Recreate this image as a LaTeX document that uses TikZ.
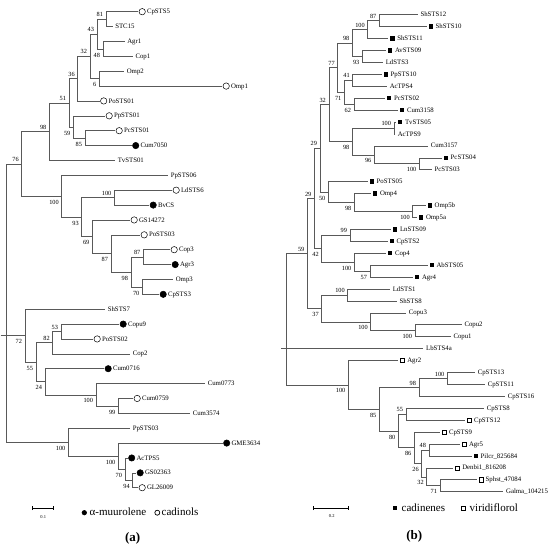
\documentclass[tikz,border=0pt]{standalone}
\usepackage{fontspec}
\setmainfont{Liberation Serif}
\usetikzlibrary{arrows.meta}

\begin{document}
\begin{tikzpicture}[x=1pt,y=-1pt,
  branch/.style={draw=black!65,line width=0.6pt},
  leaf/.style={anchor=west,inner sep=0pt,font=\fontsize{6.8}{7}\selectfont,text height=4.6pt,text depth=0.4pt},
  bs/.style={inner sep=0pt,font=\fontsize{6.3}{7}\selectfont,text height=4.3pt,text depth=0pt},
  bu/.style={bs,anchor=south east,xshift=-2.8pt,yshift=2.2pt},
  bd/.style={bs,anchor=north east,xshift=-2.8pt,yshift=-3.6pt},
  m0/.style={inner sep=0pt},
  m1/.style={circle,draw,line width=0.5pt,minimum size=6.4pt,inner sep=0pt},
  m2/.style={m1,fill},
  m3/.style={rectangle,fill,minimum size=4.4pt,inner sep=0pt},
  m4/.style={rectangle,draw,line width=0.5pt,minimum size=4.2pt,inner sep=0pt},
  legend/.style={anchor=west,inner sep=0pt,font=\fontsize{11}{13}\selectfont,text height=6.5pt,text depth=0pt},
  scalebar/.style={line width=1pt,{Bar[width=3.8pt]}-{Bar[width=3.8pt]}},
  scalelab/.style={inner sep=0pt,font=\fontsize{4.5}{5}\selectfont},
  panel/.style={inner sep=0pt,font=\bfseries\fontsize{13}{15}\selectfont}]
  \useasboundingbox (0,0) rectangle (550,551);

  % (a)
  \foreach[count=\i] \txt/\xe/\m in {CpSTS5/138/1,STC15/112.5/0,Agr1/124.5/0,Cop1/132.7/0,Omp2/124/0,Omp1/222/1,PoSTS01/99.5/1,PpSTS01/105/1,PcSTS01/115/1,Cum7050/131.5/2,TvSTS01/115/0,PpSTS06/168/0,LdSTS6/172/1,BvCS/149/2,GS14272/130/1,PoSTS03/140/1,Cop3/170/1,Agr3/171/2,Omp3/173/0,CpSTS3/159/2,ShSTS7/105/0,Copu9/119/2,PoSTS02/93/1,Cop2/130/0,Cum0716/104/2,Cum0773/205/0,Cum0759/133/1,Cum3574/190/0,PpSTS03/130/0,GME3634/222.5/2,AcTPS5/127.5/2,GS02363/136/2,GL26009/138/1} {
    \pgfmathsetmacro\yy{11.7+(\i-1)*14.875}
    \pgfmathsetmacro\xt{\xe+2.6+6.2*(\m>0)}
    \coordinate (a\i) at (\xe,\yy);
    \node[m\m] (am\i) at (\xe+4.2,\yy) {};
    \node[leaf] (at\i) at (\xt,\yy) {\txt};
  }
  \foreach \n/\px/\py/\b/\p in {A81/106/19.1/81/u,A48/103/48.9/48/d,A43/97/34/43/u,A6/99.3/78.6/6/d,A32/90/56.3/32/u,A36/77.7/78.6/36/u,A85/85/138.1/85/d,A59/73.3/127/59/d,A51/69/102.8/51/u,A98/49.3/131.6/98/u,A100a/114.3/197.7/100/u,A87a/143.3/257.1/87/u,A70a/142.3/286.9/70/d,A98a/131/272/98/d,A87/111/253.4/87/d,A69/92.3/236.7/69/d,A93/81.7/217.2/93/d,A100/61.7/196.3/100/d,A76/21.7/164/76/u,A53/61/331.5/53/u,A82/52.7/342.7/82/u,A99/118.3/405.9/99/d,A100b/96/394.8/100/d,A24/45/381.7/24/d,A55/36/362.2/55/d,A72/25/335.7/72/d,A94/132.7/480.3/94/d,A70/125/469.1/70/d,A100c/118.3/456.1/100/d,A100d/68.3/442.2/100/d} {
    \coordinate (\n) at (\px,\py);
    \node[b\p] (l\n) at (\n) {\b};
  }
  \coordinate (Aroot) at (6,335.7);
  \coordinate (Astub) at (0.5,335.7);
  \foreach \p/\c in {A81/a1,A81/a2,A48/a3,A48/a4,A43/A81,A43/A48,A6/a5,A6/a6,A32/A43,A32/A6,A36/A32,A36/a7,A85/a9,A85/a10,A59/a8,A59/A85,A51/A36,A51/A59,A98/A51,A98/a11,A100a/a13,A100a/a14,A87a/a17,A87a/a18,A70a/a19,A70a/a20,A98a/A87a,A98a/A70a,A87/a16,A87/A98a,A69/a15,A69/A87,A93/A100a,A93/A69,A100/a12,A100/A93,A76/A98,A76/A100,A53/a22,A53/a23,A82/A53,A82/a24,A99/a27,A99/a28,A100b/a26,A100b/A99,A24/a25,A24/A100b,A55/A82,A55/A24,A72/a21,A72/A55,A94/a32,A94/a33,A70/a31,A70/A94,A100c/a30,A100c/A70,A100d/a29,A100d/A100c,Aroot/A76,Aroot/A72,Aroot/A100d,Astub/Aroot}
    \draw[branch] (\p) |- (\c);

  % (b)
  \foreach[count=\i] \txt/\xe/\m in {ShSTS12/417.7/0,ShSTS10/426.7/3,ShSTS11/388.3/3,AvSTS09/386/3,LdSTS3/383/0,PpSTS10/381.7/3,AcTPS4/387/0,PcSTS02/385/3,Cum3158/398/3,TvSTS05/396/3,AcTPS9/395/0,Cum3157/428/0,PcSTS04/441.7/3,PcSTS03/431.7/0,PoSTS05/367.7/3,Omp4/371/3,Omp5b/425.7/3,Omp5a/417/3,LnSTS09/391/3,CpSTS2/387.5/3,Cop4/386/3,AbSTS05/427.5/3,Agr4/413/3,LdSTS1/390/0,ShSTS8/396.7/0,Copu3/406/0,Copu2/461.7/0,Copu1/450.7/0,LbSTS4a/423.3/0,Agr2/398.3/4,CpSTS13/475/0,CpSTS11/485/0,CpSTS16/505/0,CpSTS8/484/0,CpSTS12/465/4,CpSTS9/440/4,Agr5/460/4,Pilcr\_825684/471.7/3,Denbi1\_816208/453.3/4,Sphst\_47084/476.7/4,Galma\_104215/503.3/0} {
    \pgfmathsetmacro\yy{14.7+(\i-1)*11.925}
    \pgfmathsetmacro\xt{\xe+2.6+6.2*(\m>0)}
    \coordinate (b\i) at (\xe,\yy);
    \node[m\m] (bm\i) at (\xe+4.2,\yy) {};
    \node[leaf] (bt\i) at (\xt,\yy) {\txt};
  }
  \foreach \n/\px/\py/\b/\p in {B87/379.3/20.65/87/u,B100a/367.7/29.6/100/u,B93/362.3/56.45/93/d,B98a/352.3/43/98/u,B41/352.7/80.3/41/u,B62/354/104.15/62/d,B71a/344.3/92.2/71/d,B77/337.7/67.6/77/u,B100b/394/128/100/u,B100c/419.3/163.75/100/d,B96/374.3/154.8/96/d,B98b/352.3/141.4/98/d,B32a/328.8/104.5/32/u,B100d/412.7/211.45/100/d,B98c/354.3/202.5/98/d,B50/328.3/192.1/50/d,B29a/320/148.3/29/u,B99/350/235.35/99/u,B57/370/271.1/57/d,B100e/354.3/262.15/100/d,B42/321.7/248.75/42/d,B29b/314.3/198.5/29/u,B100f/347.7/294.95/100/u,B100g/415/330.75/100/d,B100h/370.7/321.8/100/d,B37/321.7/308.4/37/d,B59/307.3/253.45/59/u,B100i/447.3/378.45/100/u,B98d/419/387.4/98/u,B55/406/414.2/55/u,B48/429/449.95/48/u,B71b/440/485.75/71/d,B32b/426.7/476.8/32/d,B26/421.7/463.4/26/d,B86/414.3/447.75/86/d,B80/398.3/431/80/d,B85/379.3/409.2/85/d,B100j/348.3/384.85/100/d} {
    \coordinate (\n) at (\px,\py);
    \node[b\p] (l\n) at (\n) {\b};
  }
  \coordinate (Broot) at (286.7,348.6);
  \coordinate (Bstub) at (281,348.6);
  \foreach \p/\c in {B87/b1,B87/b2,B100a/B87,B100a/b3,B93/b4,B93/b5,B98a/B100a,B98a/B93,B41/b6,B41/b7,B62/b8,B62/b9,B71a/B41,B71a/B62,B77/B98a,B77/B71a,B100b/b10,B100b/b11,B100c/b13,B100c/b14,B96/b12,B96/B100c,B98b/B100b,B98b/B96,B32a/B77,B32a/B98b,B100d/b17,B100d/b18,B98c/b16,B98c/B100d,B50/b15,B50/B98c,B29a/B32a,B29a/B50,B99/b19,B99/b20,B57/b22,B57/b23,B100e/b21,B100e/B57,B42/B99,B42/B100e,B29b/B29a,B29b/B42,B100f/b24,B100f/b25,B100g/b27,B100g/b28,B100h/b26,B100h/B100g,B37/B100f,B37/B100h,B59/B29b,B59/B37,B100i/b31,B100i/b32,B98d/B100i,B98d/b33,B55/b34,B55/b35,B48/b37,B48/b38,B71b/b40,B71b/b41,B32b/b39,B32b/B71b,B26/B48,B26/B32b,B86/b36,B86/B26,B80/B55,B80/B86,B85/B98d,B85/B80,B100j/b30,B100j/B85,Broot/B59,Broot/b29,Broot/B100j,Bstub/Broot}
    \draw[branch] (\p) |- (\c);

  % legends
  \coordinate (sa0) at (32.3,508.3);
  \coordinate (sa1) at (54.3,508.3);
  \draw[scalebar] (sa0) -- (sa1);
  \node[scalelab] (sla) at (43.3,517) {0.1};
  \node[m2,minimum size=4.6pt] (kfa) at (84.3,512.7) {};
  \node[legend] (kta) at (89.5,512.7) {α-muurolene};
  \node[m1,minimum size=5pt,line width=0.7pt] (koa) at (157.3,512.7) {};
  \node[legend] (kua) at (161.5,512.7) {cadinols};
  \node[panel] (pa) at (132.7,538) {(a)};

  \coordinate (sb0) at (313.3,508.3);
  \coordinate (sb1) at (349,508.3);
  \draw[scalebar] (sb0) -- (sb1);
  \node[scalelab] (slb) at (331.7,516.5) {0.2};
  \node[m3,minimum size=4pt] (kfb) at (395,508.3) {};
  \node[legend] (ktb) at (401.5,508.3) {cadinenes};
  \node[m4,minimum size=4.5pt,line width=0.8pt] (kob) at (463.3,508.3) {};
  \node[legend] (kub) at (469.5,508.3) {viridiflorol};
  \node[panel] (pb) at (414.3,536) {(b)};
\end{tikzpicture}
\end{document}
